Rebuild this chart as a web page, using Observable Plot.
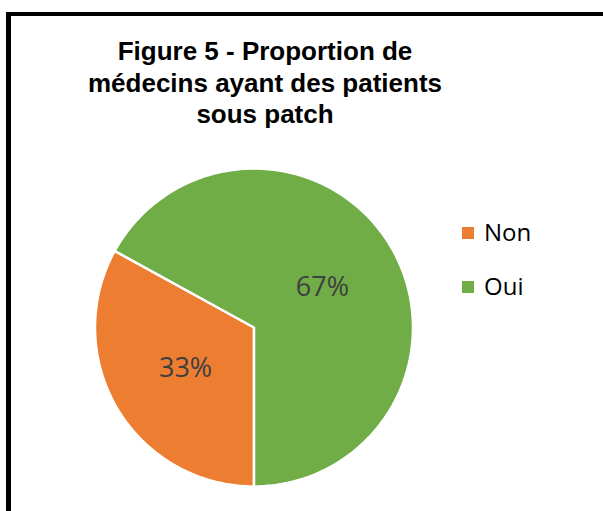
<!DOCTYPE html>
<html>
<head>
<meta charset="utf-8">
<script src="https://cdn.jsdelivr.net/npm/d3@7"></script>
<script src="https://cdn.jsdelivr.net/npm/@observablehq/plot@0.6"></script>
<style>
  html, body { margin: 0; padding: 0; background: #fff; }
  #page { position: relative; width: 603px; height: 511px; overflow: hidden; background: #fff; }
  #frame { position: absolute; left: 6px; top: 12px; width: 700px; height: 600px;
           border-left: 5px solid #000; border-top: 4px solid #000; box-sizing: border-box; }
  #title { position: absolute; left: 0; top: 36px; width: 530px; text-align: center;
           font-family: "Liberation Sans", Arial, sans-serif; font-weight: bold; font-size: 26px;
           line-height: 31.5px; color: #000; }
  #chart { position: absolute; left: 0; top: 140px; }
  .lg { position: absolute; left: 462px; font-family: "Open Sans", sans-serif; font-size: 24px;
        line-height: 24px; color: #000; white-space: nowrap; }
  .lg .sw { position: absolute; left: 0; width: 12px; height: 12px; }
  .lg .lab { position: absolute; left: 22px; top: 0; }
</style>
</head>
<body>
<div id="page">
  <div id="frame"></div>
  <div id="title">Figure 5 - Proportion de<br>médecins ayant des patients<br>sous patch</div>
  <div id="chart"></div>
</div>
<script>
const categories = ["Non", "Oui"];
const values = [33, 67];
const labels = ["33%", "67%"];
const colors = ["#ED7D31", "#70AD47"];

const pie = d3.pie().sort(null).startAngle(Math.PI).endAngle(3 * Math.PI);
const arcs = pie(values);

const outline = [];
arcs.forEach((a, i) => {
  outline.push({cat: categories[i], x: 0, y: 0});
  const n = 120;
  for (let k = 0; k <= n; k++) {
    const t = a.startAngle + (a.endAngle - a.startAngle) * k / n;
    outline.push({cat: categories[i], x: Math.sin(t), y: Math.cos(t)});
  }
});
const labelPts = arcs.map((a, i) => {
  const m = (a.startAngle + a.endAngle) / 2;
  return {cat: categories[i], label: labels[i], x: 0.5 * Math.sin(m), y: 0.5 * Math.cos(m)};
});

const cx = 253.5, cy = 187, r = 159;
const plot = Plot.plot({
  width: 603,
  height: 371,
  margin: 0,
  x: {domain: [-1, 1], range: [cx - r, cx + r], axis: null},
  y: {domain: [-1, 1], range: [cy + r, cy - r], axis: null},
  color: {domain: categories, range: colors},
  style: {background: "transparent"},
  marks: [
    Plot.line(outline, {x: "x", y: "y", z: "cat", fill: "cat", stroke: "white", strokeWidth: 2.5,
                        curve: "linear-closed", strokeLinejoin: "round"}),
    Plot.text(labelPts, {x: "x", y: "y", text: "label", fill: "#404040", fontSize: 27,
                         fontFamily: "Open Sans"})
  ]
});
document.getElementById("chart").appendChild(plot);

const page = document.getElementById("page");
const tops = [219.7, 273.7];
categories.forEach((c, i) => {
  const d = document.createElement("div");
  d.className = "lg";
  d.style.top = tops[i] + "px";
  const sw = document.createElement("div");
  sw.className = "sw";
  sw.style.background = colors[i];
  sw.style.top = (7.5) + "px";
  const lab = document.createElement("div");
  lab.className = "lab";
  lab.textContent = c;
  d.appendChild(sw);
  d.appendChild(lab);
  page.appendChild(d);
});
</script>
</body>
</html>
